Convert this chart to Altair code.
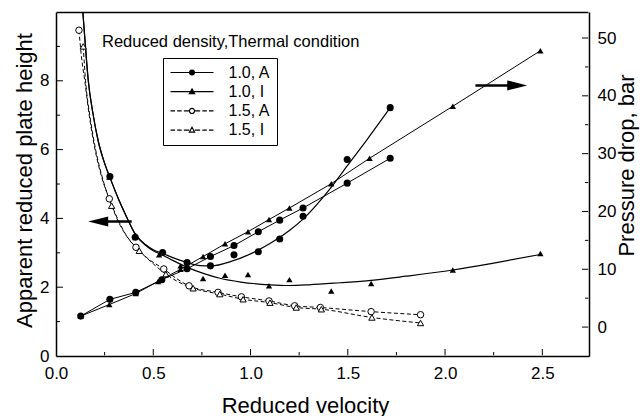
import altair as alt
import pandas as pd

# ---------------- values ----------------
# Apparent reduced plate height (left axis), markers
h10A_u = [0.277, 0.407, 0.548, 0.674, 0.794, 0.915, 1.04, 1.15, 1.27, 1.497, 1.718]
h10A_h = [5.22, 3.45, 3.01, 2.72, 2.62, 2.94, 3.03, 3.40, 4.06, 5.71, 7.22]
h10I_u = [0.274, 0.41, 0.53, 0.64, 0.756, 0.869, 0.987, 1.095, 1.2, 1.415, 1.62, 2.04, 2.49]
h10I_h = [5.2, 3.5, 2.94, 2.62, 2.25, 2.35, 2.37, 2.04, 2.22, 1.89, 2.11, 2.50, 2.98]
h15A_u = [0.118, 0.274, 0.411, 0.554, 0.684, 0.833, 0.953, 1.095, 1.227, 1.359, 1.62, 1.874]
h15A_h = [9.47, 4.57, 3.16, 2.53, 2.04, 1.85, 1.72, 1.60, 1.46, 1.41, 1.29, 1.20]
h15I_u = [0.14, 0.286, 0.428, 0.565, 0.705, 0.842, 0.962, 1.10, 1.235, 1.364, 1.624, 1.874]
h15I_h = [9.0, 4.37, 3.06, 2.38, 1.97, 1.80, 1.65, 1.55, 1.41, 1.36, 1.12, 0.96]

# fitted solid curves (they leave the top at u ~ 0.138)
fit10A_u = [0.138, 0.15, 0.166, 0.19, 0.217, 0.25, 0.282, 0.32, 0.36, 0.41, 0.46, 0.5, 0.55,
            0.6, 0.674, 0.74, 0.8, 0.9, 1.0, 1.1, 1.2, 1.27, 1.4, 1.5, 1.6, 1.718]
fit10A_h = [10.0, 9.1, 8.0, 7.05, 6.25, 5.6, 5.12, 4.58, 4.08, 3.52, 3.24, 3.09, 2.98,
            2.86, 2.72, 2.63, 2.62, 2.75, 2.97, 3.27, 3.65, 3.98, 4.8, 5.55, 6.3, 7.22]
fit10I_u = [0.138, 0.15, 0.166, 0.19, 0.217, 0.25, 0.282, 0.32, 0.36, 0.41, 0.46, 0.5, 0.55,
            0.6, 0.67, 0.757, 0.842, 0.95, 1.1, 1.2, 1.3, 1.46, 1.62, 1.8, 2.04, 2.25, 2.49]
fit10I_h = [10.0, 9.1, 8.0, 7.05, 6.25, 5.6, 5.12, 4.58, 4.08, 3.52, 3.22, 3.06, 2.93,
            2.78, 2.59, 2.4, 2.26, 2.15, 2.07, 2.05, 2.07, 2.13, 2.2, 2.32, 2.5, 2.7, 2.95]
# dashed curves
dash15A_u = [0.118, 0.13, 0.149, 0.172, 0.2, 0.235, 0.274, 0.32, 0.36, 0.411, 0.48, 0.554, 0.62,
             0.684, 0.833, 0.953, 1.095, 1.227, 1.359, 1.62, 1.874]
dash15A_h = [9.47, 8.75, 7.95, 6.95, 6.02, 5.2, 4.57, 3.95, 3.52, 3.16, 2.8, 2.53, 2.25,
             2.04, 1.85, 1.72, 1.60, 1.46, 1.41, 1.29, 1.20]
dash15I_u = [0.14, 0.152, 0.175, 0.203, 0.24, 0.286, 0.33, 0.38, 0.428, 0.5, 0.565, 0.63,
             0.705, 0.842, 0.962, 1.10, 1.235, 1.364, 1.624, 1.874]
dash15I_h = [9.0, 8.0, 6.95, 6.02, 5.15, 4.37, 3.8, 3.35, 3.06, 2.68, 2.38, 2.15,
             1.97, 1.80, 1.65, 1.55, 1.41, 1.36, 1.12, 0.96]

# Pressure drop, bar (right axis)
dp10A_u = [0.127, 0.277, 0.41, 0.544, 0.674, 0.794, 0.915, 1.04, 1.15, 1.27, 1.497, 1.718]
dp10A_p = [1.9, 4.8, 6.0, 8.2, 10.1, 12.2, 14.1, 16.5, 18.5, 20.6, 24.9, 29.2]
dp10I_u = [0.127, 0.274, 0.41, 0.525, 0.64, 0.756, 0.869, 0.987, 1.095, 1.2, 1.415, 1.612, 2.04, 2.49]
dp10I_p = [1.9, 3.9, 5.8, 7.9, 10.0, 12.2, 14.4, 16.5, 18.6, 20.6, 24.8, 29.2, 38.2, 47.8]

# arrows (annotation positions in data units)
arrowL_u = [0.217, 0.389]
arrowL_h = 3.91
arrowR_u = [2.156, 2.371]
arrowR_p = 41.8

# axes
x_labels = [0.0, 0.5, 1.0, 1.5, 2.0, 2.5]
x_major = [0.5, 1.0, 1.5, 2.0, 2.5]
x_minor = [0.25, 0.75, 1.25, 1.75, 2.25]
hl_labels = [0, 2, 4, 6, 8]
hl_major = [2, 4, 6, 8]
hl_minor = [1, 3, 5, 7, 9]
p_labels = [0, 10, 20, 30, 40, 50]
p_major = [0, 10, 20, 30, 40, 50]
p_minor = [5, 15, 25, 35, 45]

leg_title = "Reduced density,Thermal condition"
leg_labels = ["1.0, A", "1.0, I", "1.5, A", "1.5, I"]

# ---------------- styling ----------------
FONT = "Liberation Sans"
W, H = 533, 344
X_DOM = [0.0, 2.74]
HL_DOM = [0.0, 10.0]
P_DOM = [-5.0, 54.5]
U_PX = (X_DOM[1] - X_DOM[0]) / W      # data units per pixel
HL_PX = (HL_DOM[1] - HL_DOM[0]) / H
MAJ, MIN, GAP = 7, 4, 0.75            # tick lengths / start offset in px


def circ(r):
    return f"M{r},0A{r},{r},0,1,1,-{r},0A{r},{r},0,1,1,{r},0Z"


SOLID = "M-1,0H1"
DASH_C = "M-1,0H-0.79M-0.69,0H-0.48M-0.38,0H-0.12M0.12,0H0.38M0.48,0H0.69M0.79,0H1"
DASH_T = "M-1,0H-0.79M-0.69,0H-0.48M-0.38,0H-0.13M0.13,0H0.38M0.48,0H0.69M0.79,0H1"
leg_paths = [
    SOLID + circ(0.112) + circ(0.07) + circ(0.03),
    SOLID + "M0,-0.13L0.12,0.09L-0.12,0.09ZM0,-0.06L0.06,0.055L-0.06,0.055Z",
    DASH_C + circ(0.12),
    DASH_T + "M0,-0.13L0.12,0.09L-0.12,0.09Z",
]

axis_common = dict(ticks=False, tickSize=0, domain=True, domainColor="black", domainWidth=1.5,
                   grid=False, labelFlush=False,
                   labelFontSize=17, labelFont=FONT, labelColor="black",
                   titleFont=FONT, titleFontSize=22, titleFontWeight="normal",
                   titleColor="black", titleBaseline="alphabetic")

xenc = alt.X("u:Q", scale=alt.Scale(domain=X_DOM, nice=False, zero=False),
             axis=alt.Axis(values=x_labels, format=".1f", title="Reduced velocity",
                           labelPadding=22, labelBaseline="alphabetic",
                           titleX=249, titleY=56, **axis_common))
yL = alt.Y("h:Q", scale=alt.Scale(domain=HL_DOM, nice=False, zero=False),
           axis=alt.Axis(values=hl_labels, title="Apparent reduced plate height",
                         labelPadding=7, titleAngle=270, titleX=-25, titleY=168,
                         **axis_common))
yR = alt.Y("p:Q", scale=alt.Scale(domain=P_DOM, nice=False, zero=False),
           axis=alt.Axis(values=p_labels, title="Pressure drop, bar", orient="right",
                         labelPadding=8, titleAngle=270, titleX=44, titleY=153,
                         **axis_common))


def dfh(u, h):
    return pd.DataFrame({"u": u, "h": h})


def dfp(u, p):
    return pd.DataFrame({"u": u, "p": p})


def curve(u, h, dashed=False):
    kw = dict(color="black", interpolate="monotone")
    if dashed:
        kw.update(strokeWidth=1, strokeDash=[4, 2.5])
    else:
        kw.update(strokeWidth=1.2)
    return alt.Chart(dfh(u, h)).mark_line(**kw).encode(x=xenc, y=yL)


def filled_pts(d, y, shape, size):
    return alt.Chart(d).mark_point(shape=shape, filled=True, color="black", size=size,
                                   opacity=1).encode(x=xenc, y=y)


def open_pts(d, y, shape, size):
    return alt.Chart(d).mark_point(shape=shape, filled=True, fill="white", stroke="black",
                                   strokeWidth=1, size=size, opacity=1).encode(x=xenc, y=y)


def seg(u, u2, h, h2, width=1.0):
    """straight segments given in data units (left scale)"""
    d = pd.DataFrame({"u": [float(v) for v in u], "u2": [float(v) for v in u2],
                      "h": [float(v) for v in h], "h2": [float(v) for v in h2]})
    return alt.Chart(d).mark_rule(color="black", strokeWidth=width).encode(
        x=xenc, x2="u2:Q", y=yL, y2="h2:Q")


def segp(u, u2, p, width=1.0):
    d = pd.DataFrame({"u": [float(v) for v in u], "u2": [float(v) for v in u2],
                      "p": [float(v) for v in p]})
    return alt.Chart(d).mark_rule(color="black", strokeWidth=width).encode(
        x=xenc, x2="u2:Q", y=yR)


x0, x1 = X_DOM
y0, y1 = HL_DOM
# top border (left, bottom and right borders are the axis domain lines)
top_y = y1 - 0.4 * HL_PX
top_border = seg([x0 + GAP * U_PX], [x1 - GAP * U_PX], [top_y], [top_y], width=1.5)
# inward ticks
ticks = [
    seg([x0 + GAP * U_PX] * len(hl_major), [x0 + MAJ * U_PX] * len(hl_major), hl_major, hl_major),
    seg([x0 + GAP * U_PX] * len(hl_minor), [x0 + MIN * U_PX] * len(hl_minor), hl_minor, hl_minor),
    seg(x_major, x_major, [y0 + GAP * HL_PX] * len(x_major), [y0 + MAJ * HL_PX] * len(x_major)),
    seg(x_minor, x_minor, [y0 + GAP * HL_PX] * len(x_minor), [y0 + MIN * HL_PX] * len(x_minor)),
]
rticks = [
    segp([x1 - GAP * U_PX] * len(p_major), [x1 - MAJ * U_PX] * len(p_major), p_major),
    segp([x1 - GAP * U_PX] * len(p_minor), [x1 - MIN * U_PX] * len(p_minor), p_minor),
]

# legend proxy: its points sit outside the plotted range and are clipped away
legend_layer = alt.Chart(pd.DataFrame({"series": leg_labels, "u": -1.0, "h": -1.0})).mark_point(
    filled=False, color="black", strokeWidth=1.2, opacity=1, clip=True
).encode(
    x=xenc, y=yL,
    shape=alt.Shape("series:N", scale=alt.Scale(domain=leg_labels, range=leg_paths),
                    legend=alt.Legend(title=None, orient="none", legendX=107, legendY=46,
                                      symbolSize=1849, symbolStrokeWidth=1.2,
                                      clipHeight=16, labelFontSize=16,
                                      labelFont=FONT, labelColor="black", labelOffset=14,
                                      rowPadding=3.2, padding=6.5, strokeColor="black",
                                      fillColor="white")),
)

left = [
    curve(fit10A_u, fit10A_h),
    curve(fit10I_u, fit10I_h),
    curve(dash15A_u, dash15A_h, dashed=True),
    curve(dash15I_u, dash15I_h, dashed=True),
    filled_pts(dfh(h10A_u, h10A_h), yL, "circle", 50),
    filled_pts(dfh(h10I_u, h10I_h), yL, "triangle-up", 40),
    open_pts(dfh(h15A_u, h15A_h), yL, "circle", 42),
    open_pts(dfh(h15I_u, h15I_h), yL, "triangle-up", 40),
    *ticks,
    top_border,
    # left-pointing arrow
    seg([arrowL_u[0]], [arrowL_u[1]], [arrowL_h], [arrowL_h], width=2.6),
    alt.Chart(pd.DataFrame({"u": [arrowL_u[0]], "h": [arrowL_h]})).mark_point(
        shape="M-1,0L1,-0.5L1,0.5Z", filled=True, color="black", size=400, opacity=1
    ).encode(x=xenc, y=yL),
    legend_layer,
    alt.Chart(pd.DataFrame({"t": [leg_title]})).mark_text(
        align="left", baseline="middle", fontSize=16.5, font=FONT, color="black"
    ).encode(text="t:N", x=alt.value(46), y=alt.value(30)),
]

right = [
    alt.Chart(dfp(dp10A_u, dp10A_p)).mark_line(color="black", strokeWidth=1).encode(x=xenc, y=yR),
    alt.Chart(dfp(dp10I_u, dp10I_p)).mark_line(color="black", strokeWidth=1).encode(x=xenc, y=yR),
    filled_pts(dfp(dp10A_u, dp10A_p), yR, "circle", 50),
    filled_pts(dfp(dp10I_u, dp10I_p), yR, "triangle-up", 40),
    *rticks,
    segp([arrowR_u[0]], [arrowR_u[1]], [arrowR_p], width=2.6),
    alt.Chart(pd.DataFrame({"u": [arrowR_u[1]], "p": [arrowR_p]})).mark_point(
        shape="M1,0L-1,-0.5L-1,0.5Z", filled=True, color="black", size=400, opacity=1
    ).encode(x=xenc, y=yR),
]

chart = (
    alt.layer(alt.layer(*left), alt.layer(*right))
    .resolve_scale(y="independent")
    .properties(width=W, height=H,
                padding={"left": 56, "top": 12, "right": 51, "bottom": 60},
                autosize=alt.AutoSizeParams(type="none"))
    .configure_view(stroke="transparent")
    .configure(background="white")
)

chart.save("out.html", embed_options={"renderer": "svg", "actions": False})
